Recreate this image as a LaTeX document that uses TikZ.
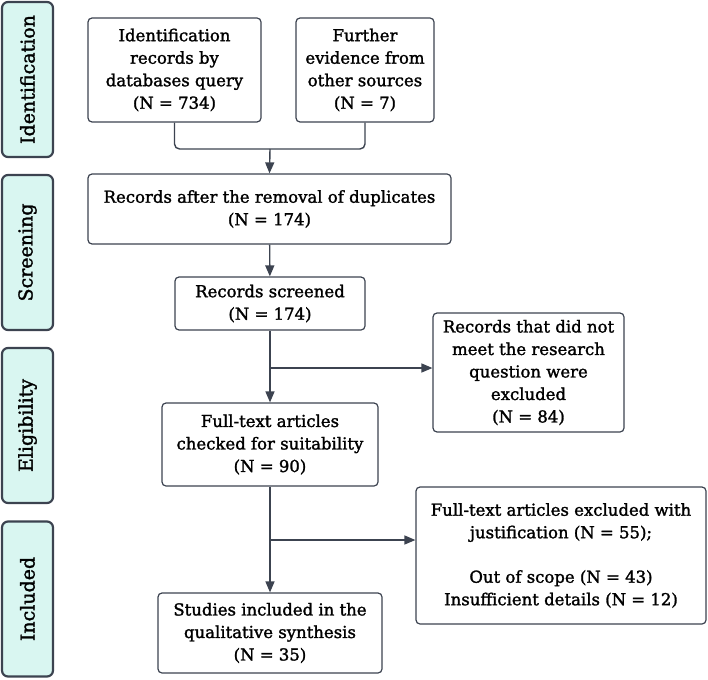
\documentclass[tikz,border=0pt]{standalone}
\usepackage{fontspec}
\setmainfont{DejaVu Serif}[FakeBold=1.6]
\usetikzlibrary{arrows.meta}
\definecolor{edgegray}{HTML}{3C4350}
\definecolor{stagefill}{HTML}{D9F6F1}
\tikzset{
  box/.style={draw=edgegray, line width=1.2pt, rounded corners=4pt, fill=white,
    align=center, inner sep=0pt, text=black,
    font=\fontsize{16.5}{22.5}\selectfont},
  stage/.style={draw=edgegray, line width=2.2pt, rounded corners=6pt, fill=stagefill,
    rotate=90, minimum width=155pt, minimum height=51pt, inner sep=0pt,
    font=\fontsize{19}{22}\selectfont},
  flow/.style={draw=edgegray, line width=1.4pt},
  arr/.style={flow, -{Triangle[length=11pt,width=9pt]}}
}
\begin{document}
\begin{tikzpicture}[x=1pt, y=-1pt]
  \useasboundingbox (0,0) rectangle (708,679);
  % stages
  \node[stage] (sid) at (27.5,79.5) {Identification};
  \node[stage] (sscr) at (27.5,252.5) {Screening};
  \node[stage] (selig) at (27.5,425.5) {Eligibility};
  \node[stage] (sinc) at (27.5,599) {Included};
  % boxes
  \node[box, minimum width=173pt, minimum height=104pt] (db) at (174.5,70)
    {Identification\\records by\\databases query\\(N = 734)};
  \node[box, minimum width=138pt, minimum height=104pt] (other) at (365,70)
    {Further\\evidence from\\other sources\\(N = 7)};
  \node[box, minimum width=363pt, minimum height=70pt] (dup) at (269.5,209)
    {Records after the removal of duplicates\\(N = 174)};
  \node[box, minimum width=190pt, minimum height=53pt] (scr) at (270,303.5)
    {Records screened\\(N = 174)};
  \node[box, minimum width=216pt, minimum height=83pt] (full) at (270,444.5)
    {Full-text articles\\checked for suitability\\(N = 90)};
  \node[box, minimum width=191pt, minimum height=119pt] (excl) at (528.5,372.5)
    {Records that did not\\meet the research\\question were\\excluded\\(N = 84)};
  \node[box, minimum width=224pt, minimum height=80pt] (incl) at (270,633)
    {Studies included in the\\qualitative synthesis\\(N = 35)};
  \node[box, minimum width=290pt, minimum height=137pt] (just) at (561,555.5)
    {Full-text articles excluded with\\justification (N = 55);\\[22pt]Out of scope (N = 43)\\Insufficient details (N = 12)};
  % connectors
  \coordinate (join) at (270,149);
  \coordinate (fork1) at (270,368);
  \coordinate (fork2) at (270,540);
  \draw[flow, rounded corners=5pt] (db.south) |- (join) -| (other.south);
  \draw[arr] (join) -- (dup.north);
  \draw[arr] (dup) -- (scr);
  \draw[arr] (scr) -- (full);
  \draw[arr] (fork1) -- (fork1 -| excl.west);
  \draw[arr] (full) -- (incl);
  \draw[arr] (fork2) -- (fork2 -| just.west);
\end{tikzpicture}
\end{document}
